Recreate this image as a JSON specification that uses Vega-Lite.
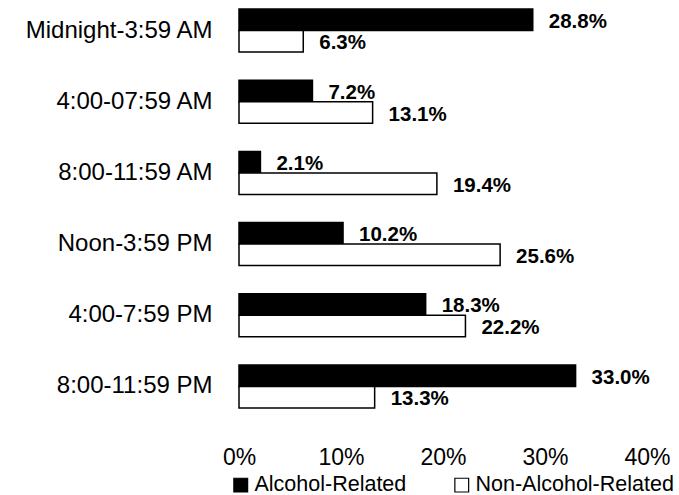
{
  "$schema": "https://vega.github.io/schema/vega-lite/v6.json",
  "autosize": "none",
  "width": 408,
  "height": 417,
  "padding": {"left": 239, "top": 0, "right": 32, "bottom": 78},
  "background": "white",
  "config": {"view": {"stroke": null}, "font": "Liberation Sans"},
  "data": {
    "values": [
      {"time": "Midnight-3:59 AM", "series": "Alcohol-Related", "value": 0.288},
      {"time": "Midnight-3:59 AM", "series": "Non-Alcohol-Related", "value": 0.063},
      {"time": "4:00-07:59 AM", "series": "Alcohol-Related", "value": 0.072},
      {"time": "4:00-07:59 AM", "series": "Non-Alcohol-Related", "value": 0.131},
      {"time": "8:00-11:59 AM", "series": "Alcohol-Related", "value": 0.021},
      {"time": "8:00-11:59 AM", "series": "Non-Alcohol-Related", "value": 0.194},
      {"time": "Noon-3:59 PM", "series": "Alcohol-Related", "value": 0.102},
      {"time": "Noon-3:59 PM", "series": "Non-Alcohol-Related", "value": 0.256},
      {"time": "4:00-7:59 PM", "series": "Alcohol-Related", "value": 0.183},
      {"time": "4:00-7:59 PM", "series": "Non-Alcohol-Related", "value": 0.222},
      {"time": "8:00-11:59 PM", "series": "Alcohol-Related", "value": 0.330},
      {"time": "8:00-11:59 PM", "series": "Non-Alcohol-Related", "value": 0.133}
    ]
  },
  "encoding": {
    "y": {
      "field": "time", "type": "nominal", "sort": null, "title": null,
      "scale": {"paddingInner": 0.395, "paddingOuter": 0.127},
      "axis": {"domain": false, "ticks": false, "labelFontSize": 24, "labelColor": "black", "labelPadding": 27, "labelLimit": 300}
    },
    "yOffset": {"field": "series", "type": "nominal", "sort": ["Alcohol-Related", "Non-Alcohol-Related"], "scale": {"paddingInner": 0, "paddingOuter": 0}},
    "x": {
      "field": "value", "type": "quantitative", "title": null,
      "scale": {"domain": [0, 0.4], "nice": false},
      "axis": {"values": [0, 0.1, 0.2, 0.3, 0.4], "format": ".0%", "domain": false, "ticks": false, "grid": false, "labelFontSize": 23, "labelColor": "black", "labelPadding": 29, "labelFlush": false}
    }
  },
  "layer": [
    {
      "mark": {"type": "bar", "stroke": "black", "strokeWidth": 1.5},
      "encoding": {
        "fill": {
          "field": "series", "type": "nominal", "title": null,
          "scale": {"domain": ["Alcohol-Related", "Non-Alcohol-Related"], "range": ["black", "white"]},
          "legend": {
            "orient": "none", "direction": "horizontal", "legendX": -9, "legendY": 474,
            "symbolType": "square", "symbolSize": 190, "symbolStrokeColor": "black", "symbolStrokeWidth": 1.2,
            "labelFontSize": 21.5, "labelColor": "black", "labelOffset": 3, "columnPadding": 44, "labelLimit": 300
          }
        }
      }
    },
    {
      "mark": {"type": "text", "align": "left", "baseline": "middle", "dx": 16, "dy": 2, "fontWeight": "bold", "fontSize": 20.5, "color": "black"},
      "encoding": {
        "text": {"field": "value", "type": "quantitative", "format": ".1%"}
      }
    }
  ]
}
